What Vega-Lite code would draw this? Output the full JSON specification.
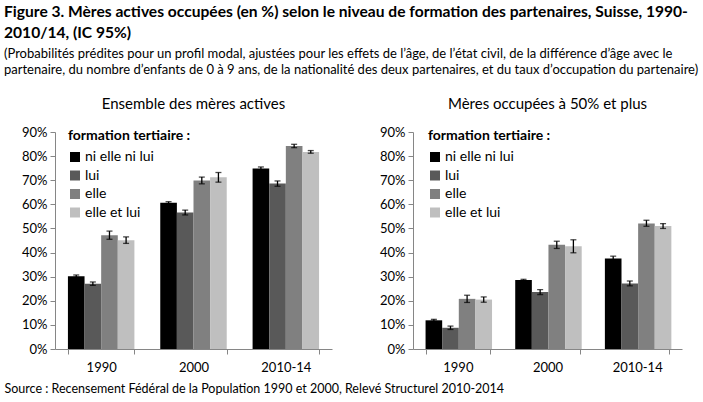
{
  "$schema": "https://vega.github.io/schema/vega-lite/v6.json",
  "padding": {"left": 4, "top": 5, "right": 2, "bottom": 4},
  "background": "white",
  "title": {
    "text": ["Figure 3. Mères actives occupées (en %) selon le niveau de formation des partenaires, Suisse, 1990-", "2010/14, (IC 95%)"],
    "subtitle": ["(Probabilités prédites pour un profil modal, ajustées pour les effets de l’âge, de l’état civil, de la différence d’âge avec le", "partenaire, du nombre d’enfants de 0 à 9 ans, de la nationalité des deux partenaires, et du taux d’occupation du partenaire)"],
    "anchor": "start",
    "frame": "bounds",
    "font": "Lato",
    "fontSize": 15.6,
    "fontWeight": "bold",
    "lineHeight": 21,
    "color": "#000000",
    "subtitleFont": "Lato",
    "subtitleFontSize": 13,
    "subtitleLineHeight": 16,
    "subtitleColor": "#000000",
    "subtitlePadding": 6,
    "offset": 20
  },
  "datasets": {
    "d": [
      {"panel": "A", "year": "1990", "grp": "ni elle ni lui", "value": 30.2, "lo": 29.7, "hi": 30.7},
      {"panel": "A", "year": "1990", "grp": "lui", "value": 27.1, "lo": 26.4, "hi": 27.8},
      {"panel": "A", "year": "1990", "grp": "elle", "value": 47.2, "lo": 45.5, "hi": 48.9},
      {"panel": "A", "year": "1990", "grp": "elle et lui", "value": 45.1, "lo": 43.8, "hi": 46.5},
      {"panel": "A", "year": "2000", "grp": "ni elle ni lui", "value": 60.7, "lo": 60.3, "hi": 61.1},
      {"panel": "A", "year": "2000", "grp": "lui", "value": 56.6, "lo": 55.6, "hi": 57.6},
      {"panel": "A", "year": "2000", "grp": "elle", "value": 69.9, "lo": 68.5, "hi": 71.3},
      {"panel": "A", "year": "2000", "grp": "elle et lui", "value": 71.2, "lo": 69.2, "hi": 73.2},
      {"panel": "A", "year": "2010-14", "grp": "ni elle ni lui", "value": 74.9, "lo": 74.3, "hi": 75.5},
      {"panel": "A", "year": "2010-14", "grp": "lui", "value": 68.6, "lo": 67.5, "hi": 69.7},
      {"panel": "A", "year": "2010-14", "grp": "elle", "value": 84.2, "lo": 83.5, "hi": 84.9},
      {"panel": "A", "year": "2010-14", "grp": "elle et lui", "value": 81.7, "lo": 81.2, "hi": 82.3},
      {"panel": "B", "year": "1990", "grp": "ni elle ni lui", "value": 11.9, "lo": 11.5, "hi": 12.3},
      {"panel": "B", "year": "1990", "grp": "lui", "value": 8.8, "lo": 8.1, "hi": 9.5},
      {"panel": "B", "year": "1990", "grp": "elle", "value": 20.8, "lo": 19.3, "hi": 22.3},
      {"panel": "B", "year": "1990", "grp": "elle et lui", "value": 20.5, "lo": 19.4, "hi": 21.6},
      {"panel": "B", "year": "2000", "grp": "ni elle ni lui", "value": 28.6, "lo": 28.3, "hi": 28.9},
      {"panel": "B", "year": "2000", "grp": "lui", "value": 23.6, "lo": 22.6, "hi": 24.6},
      {"panel": "B", "year": "2000", "grp": "elle", "value": 43.2, "lo": 41.7, "hi": 44.7},
      {"panel": "B", "year": "2000", "grp": "elle et lui", "value": 42.6, "lo": 39.9, "hi": 45.3},
      {"panel": "B", "year": "2010-14", "grp": "ni elle ni lui", "value": 37.5, "lo": 36.5, "hi": 38.5},
      {"panel": "B", "year": "2010-14", "grp": "lui", "value": 27.2, "lo": 26.2, "hi": 28.2},
      {"panel": "B", "year": "2010-14", "grp": "elle", "value": 52.1, "lo": 50.9, "hi": 53.4},
      {"panel": "B", "year": "2010-14", "grp": "elle et lui", "value": 51.0, "lo": 50.0, "hi": 52.0}
    ]
  },
  "spacing": 81,
  "bounds": "flush",
  "resolve": {"legend": {"color": "independent"}},
  "hconcat": [
    {
      "title": {"text": "Ensemble des mères actives"},
      "width": 277,
      "height": 217,
      "data": {"name": "d"},
      "transform": [{"filter": "datum.panel == 'A'"}],
      "encoding": {
        "x": {
          "field": "year", "type": "nominal", "sort": ["1990", "2000", "2010-14"],
          "scale": {"paddingInner": 0.28, "paddingOuter": 0.14},
          "axis": {
            "title": "Source : Recensement Fédéral de la Population 1990 et 2000, Relevé Structurel 2010-2014",
            "titleX": -51, "titleY": 43, "titleAnchor": "start", "titleAlign": "left", "titleBaseline": "alphabetic",
            "titleFont": "Lato", "titleFontSize": 12.5, "titleFontWeight": "normal", "titleColor": "#000000"
          }
        },
        "xOffset": {"field": "grp", "type": "nominal", "sort": ["ni elle ni lui", "lui", "elle", "elle et lui"], "scale": {"paddingInner": 0, "paddingOuter": 0}}
      },
      "layer": [
        {
          "mark": {"type": "bar"},
          "encoding": {
            "y": {"field": "value", "type": "quantitative", "scale": {"domain": [0, 90]}, "axis": {"title": null, "values": [0, 10, 20, 30, 40, 50, 60, 70, 80, 90], "labelExpr": "datum.value + '%'", "labelOverlap": false}},
            "color": {
              "field": "grp", "type": "nominal",
              "scale": {"domain": ["ni elle ni lui", "lui", "elle", "elle et lui"], "range": ["#000000", "#595959", "#808080", "#bfbfbf"]},
              "legend": {"title": "formation tertiaire :", "orient": "none", "legendX": 13, "legendY": -3}
            }
          }
        },
        {"mark": {"type": "rule", "color": "#000000", "strokeWidth": 1.3}, "encoding": {"y": {"field": "lo", "type": "quantitative", "scale": {"domain": [0, 90]}, "axis": {"title": null, "values": [0, 10, 20, 30, 40, 50, 60, 70, 80, 90], "labelExpr": "datum.value + '%'", "labelOverlap": false}}, "y2": {"field": "hi"}}},
        {"mark": {"type": "tick", "color": "#000000", "size": 6, "thickness": 1.3}, "encoding": {"y": {"field": "lo", "type": "quantitative", "scale": {"domain": [0, 90]}, "axis": {"title": null, "values": [0, 10, 20, 30, 40, 50, 60, 70, 80, 90], "labelExpr": "datum.value + '%'", "labelOverlap": false}}}},
        {"mark": {"type": "tick", "color": "#000000", "size": 6, "thickness": 1.3}, "encoding": {"y": {"field": "hi", "type": "quantitative", "scale": {"domain": [0, 90]}, "axis": {"title": null, "values": [0, 10, 20, 30, 40, 50, 60, 70, 80, 90], "labelExpr": "datum.value + '%'", "labelOverlap": false}}}}
      ]
    },
    {
      "title": {"text": "Mères occupées à 50% et plus"},
      "width": 269,
      "height": 217,
      "data": {"name": "d"},
      "transform": [{"filter": "datum.panel == 'B'"}],
      "encoding": {
        "x": {
          "field": "year", "type": "nominal", "sort": ["1990", "2000", "2010-14"],
          "scale": {"paddingInner": 0.28, "paddingOuter": 0.14},
          "axis": {"title": null}
        },
        "xOffset": {"field": "grp", "type": "nominal", "sort": ["ni elle ni lui", "lui", "elle", "elle et lui"], "scale": {"paddingInner": 0, "paddingOuter": 0}}
      },
      "layer": [
        {
          "mark": {"type": "bar"},
          "encoding": {
            "y": {"field": "value", "type": "quantitative", "scale": {"domain": [0, 90]}, "axis": {"title": null, "values": [0, 10, 20, 30, 40, 50, 60, 70, 80, 90], "labelExpr": "datum.value + '%'", "labelOverlap": false}},
            "color": {
              "field": "grp", "type": "nominal",
              "scale": {"domain": ["ni elle ni lui", "lui", "elle", "elle et lui"], "range": ["#000000", "#595959", "#808080", "#bfbfbf"]},
              "legend": {"title": "formation tertiaire :", "orient": "none", "legendX": 15, "legendY": -3}
            }
          }
        },
        {"mark": {"type": "rule", "color": "#000000", "strokeWidth": 1.3}, "encoding": {"y": {"field": "lo", "type": "quantitative", "scale": {"domain": [0, 90]}, "axis": {"title": null, "values": [0, 10, 20, 30, 40, 50, 60, 70, 80, 90], "labelExpr": "datum.value + '%'", "labelOverlap": false}}, "y2": {"field": "hi"}}},
        {"mark": {"type": "tick", "color": "#000000", "size": 6, "thickness": 1.3}, "encoding": {"y": {"field": "lo", "type": "quantitative", "scale": {"domain": [0, 90]}, "axis": {"title": null, "values": [0, 10, 20, 30, 40, 50, 60, 70, 80, 90], "labelExpr": "datum.value + '%'", "labelOverlap": false}}}},
        {"mark": {"type": "tick", "color": "#000000", "size": 6, "thickness": 1.3}, "encoding": {"y": {"field": "hi", "type": "quantitative", "scale": {"domain": [0, 90]}, "axis": {"title": null, "values": [0, 10, 20, 30, 40, 50, 60, 70, 80, 90], "labelExpr": "datum.value + '%'", "labelOverlap": false}}}}
      ]
    }
  ],
  "config": {
    "font": "Lato",
    "view": {"stroke": null},
    "title": {"font": "Lato", "fontSize": 15, "fontWeight": "normal", "color": "#000000", "offset": 14},
    "axis": {"labelFont": "Lato", "labelFontSize": 13, "labelColor": "#000000", "domainColor": "#868686", "tickColor": "#868686", "grid": false, "tickSize": 5},
    "axisX": {"tickBand": "extent", "labelPadding": 7, "labelAngle": 0},
    "axisY": {"minExtent": 50, "maxExtent": 50, "labelPadding": 3},
    "legend": {"titleFont": "Lato", "titleFontSize": 14, "titleFontWeight": "bold", "titleColor": "#000000", "labelFont": "Lato", "labelFontSize": 14, "labelColor": "#000000", "symbolType": "square", "symbolSize": 100, "symbolStrokeWidth": 0, "labelOffset": 3, "rowPadding": 4.5, "titlePadding": 7}
  }
}
